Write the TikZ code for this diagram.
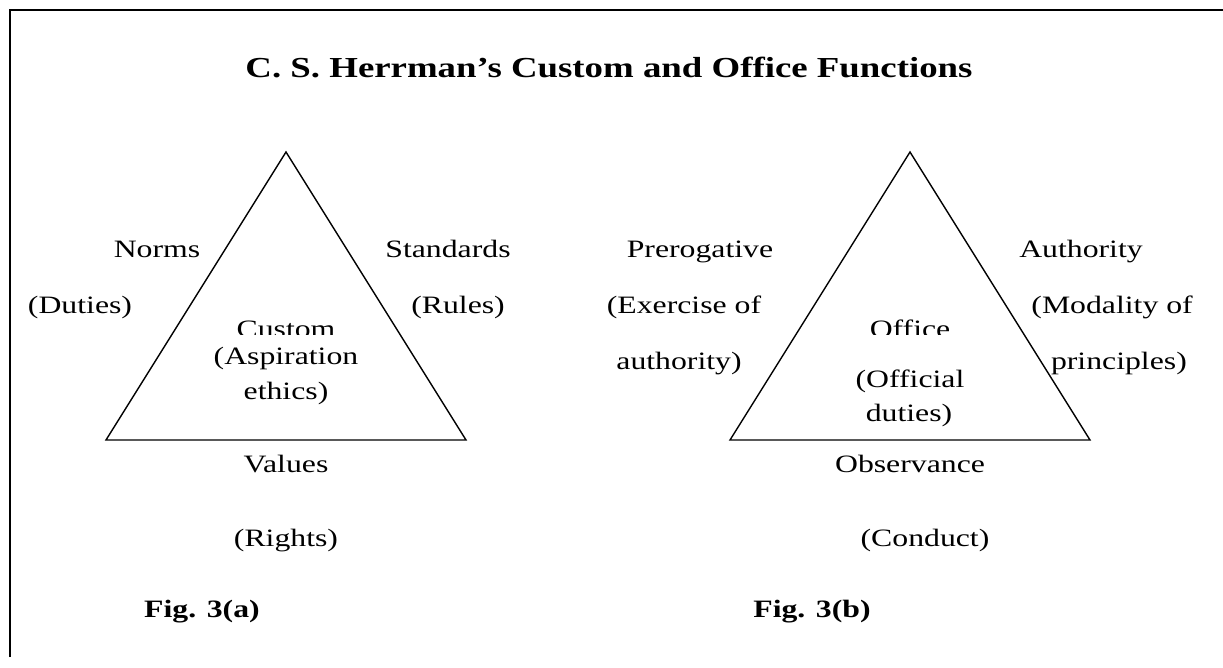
\documentclass[tikz,border=0pt]{standalone}
\usepackage{fontspec}
\setmainfont[FakeStretch=1.27]{Liberation Serif}
\begin{document}
\begin{tikzpicture}[x=1pt,y=-1pt,
  lbl/.style={font=\fontsize{25}{30}\selectfont, inner sep=0pt, anchor=base},
  ttl/.style={font=\fontsize{29}{34}\selectfont\bfseries, inner sep=0pt, anchor=base},
  fig/.style={font=\fontsize{25}{30}\selectfont\bfseries, inner sep=0pt, anchor=base},
  tri/.style={draw, line width=1.4pt, line join=miter},
  frame/.style={line width=2pt}]
\useasboundingbox (0,0) rectangle (1223,667);
% frame
\coordinate (fl) at (10,657);
\coordinate (ftl) at (10,9.5);
\coordinate (ftr) at (1223,9.5);
\draw[frame] (fl) -- (ftl) -- (ftr);
% title
\node[ttl] (title) at (609,77) {C. S. Herrman’s Custom and Office Functions};
% triangle a
\coordinate (a1) at (286,152);
\coordinate (a2) at (106,440);
\coordinate (a3) at (466,440);
\draw[tri] (a1) -- (a2) -- (a3) -- cycle;
% triangle b
\coordinate (b1) at (910,152);
\coordinate (b2) at (730,440);
\coordinate (b3) at (1090,440);
\draw[tri] (b1) -- (b2) -- (b3) -- cycle;
% labels a
\node[lbl] (norms) at (157,257) {Norms};
\node[lbl] (duties) at (80,313) {(Duties)};
\node[lbl] (std) at (448,257) {Standards};
\node[lbl, anchor=base east] (rules) at (505,313) {(Rules)};
\begin{scope}
  \clip (200,300) rectangle (372,334.5);
  \node[lbl] (custom) at (286,337) {Custom};
\end{scope}
\node[lbl] (asp) at (286,364) {(Aspiration};
\node[lbl] (eth) at (286,399) {ethics)};
\node[lbl] (val) at (286,472) {Values};
\node[lbl] (rights) at (286,546) {(Rights)};
\node[fig] (figa) at (202,617) {Fig. 3(a)};
% labels b
\node[lbl] (prer) at (700,257) {Prerogative};
\node[lbl] (exer) at (684,313) {(Exercise of};
\node[lbl] (auth1) at (679,369) {authority)};
\begin{scope}
  \clip (840,300) rectangle (980,334.5);
  \node[lbl] (office) at (910,337) {Office};
\end{scope}
\node[lbl] (offd) at (910,387) {(Official};
\node[lbl] (dut) at (909,421) {duties)};
\node[lbl] (authy) at (1081,257) {Authority};
\node[lbl, anchor=base east] (moda) at (1193,313) {(Modality of};
\node[lbl, anchor=base east] (princ) at (1187,369) {principles)};
\node[lbl] (obs) at (910,472) {Observance};
\node[lbl] (cond) at (925,546) {(Conduct)};
\node[fig] (figb) at (812,617) {Fig. 3(b)};
\end{tikzpicture}
\end{document}
